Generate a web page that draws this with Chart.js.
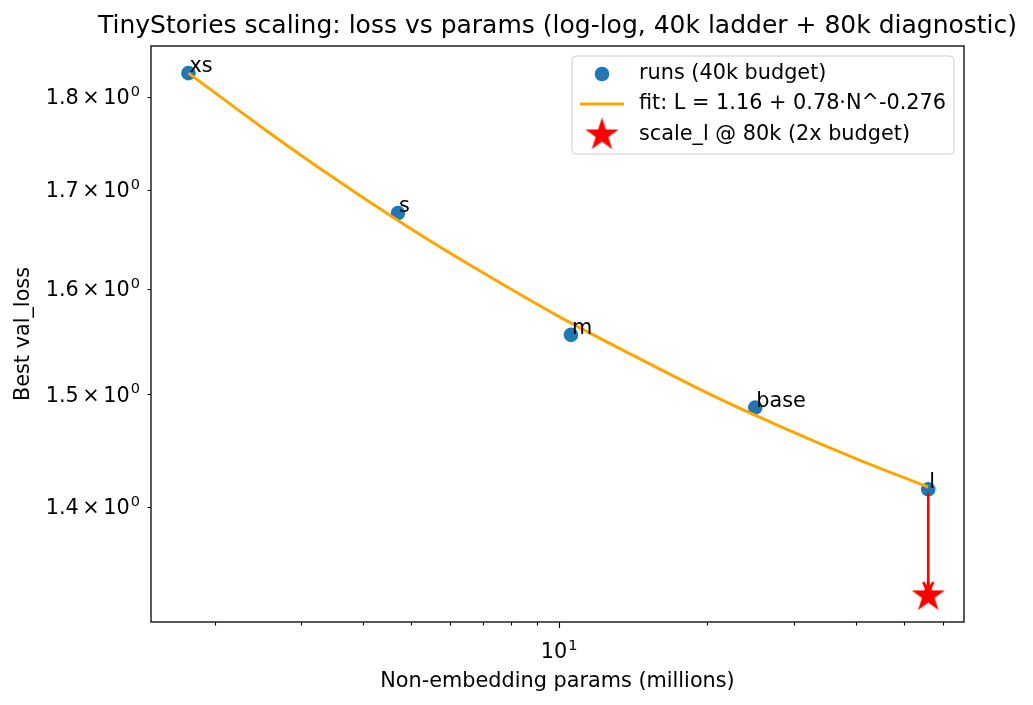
<!DOCTYPE html>
<html>
<head>
<meta charset="utf-8">
<script src="https://cdn.jsdelivr.net/npm/chart.js@4.4.0/dist/chart.umd.min.js"></script>
<style>
  body { margin: 0; background: #fff; }
  #wrap { width: 1033px; height: 705px; }
</style>
</head>
<body>
<div id="wrap"><canvas id="chart" width="1033" height="705"></canvas></div>
<script>
// runs on the 40k ladder
const models = ['xs', 's', 'm', 'base', 'l'];
const params = [1.77, 4.71, 10.57, 25.0, 56.1];
const bestLoss = [1.826, 1.676, 1.5555, 1.4877, 1.415];

// fit curve
const fitParams = [1.77, 2.5, 3.5, 5, 7, 10, 14, 20, 28, 40, 56.1];
const fitLoss = [1.826, 1.766, 1.712, 1.660, 1.616, 1.573, 1.537, 1.501, 1.471, 1.442, 1.417];

// scale_l rerun at 80k
const diagParams = [56.1];
const diagLoss = [1.3256];

const xMajorTicks = [10];
const xMajorLabels = [['10', '1']];
const xMinorTicks = [2, 3, 4, 5, 6, 7, 8, 9, 20, 30, 40, 50, 60];
const yTicks = [1.4, 1.5, 1.6, 1.7, 1.8];
const yTickLabels = ['1.4', '1.5', '1.6', '1.7', '1.8'];

const legendLabels = ['runs (40k budget)', 'fit: L = 1.16 + 0.78·N^-0.276', 'scale_l @ 80k (2x budget)'];

const FONT = '"DejaVu Sans", sans-serif';
const FS = 20.8;
const BLUE = '#1f77b4';
const ORANGE = '#ffa500';

// filled 5-point star like matplotlib's '*'
function makeStar(R) {
  const c = document.createElement('canvas');
  c.width = c.height = Math.ceil(R * 2 + 2);
  const g = c.getContext('2d');
  const cx = c.width / 2, cy = c.height / 2, r = R * 0.381966;
  g.beginPath();
  for (let i = 0; i < 10; i++) {
    const rad = i % 2 ? r : R;
    const a = -Math.PI / 2 + i * Math.PI / 5;
    g.lineTo(cx + rad * Math.cos(a), cy + rad * Math.sin(a));
  }
  g.closePath();
  g.fillStyle = 'red';
  g.fill();
  return c;
}
const starImg = makeStar(17.5);

// mathtext-ish "base^sup": draws pieces left to right from x, returns width if dry
function drawPow(ctx, parts, x, base, dry) {
  let w = 0;
  for (const p of parts) {
    ctx.font = (p.sup ? FS * 0.7 : FS) + 'px ' + FONT;
    const tw = ctx.measureText(p.t).width;
    if (!dry) ctx.fillText(p.t, x + w, p.sup ? base - 8.5 : base);
    w += tw + (p.gap || 0);
  }
  return w;
}

const decor = {
  id: 'decor',
  afterDatasetsDraw(chart) {
    const { ctx, chartArea: a, scales: { x, y } } = chart;
    ctx.save();

    // arrow l -> 80k
    const x0 = x.getPixelForValue(params[4]), y0 = y.getPixelForValue(bestLoss[4]) + 3;
    const x1 = x.getPixelForValue(diagParams[0]), y1 = y.getPixelForValue(diagLoss[0]) - 3;
    ctx.strokeStyle = 'red';
    ctx.lineWidth = 2.6;
    ctx.beginPath();
    ctx.moveTo(x0, y0);
    ctx.lineTo(x1, y1);
    ctx.stroke();
    ctx.beginPath();
    ctx.moveTo(x1 - 5, y1 - 11);
    ctx.lineTo(x1, y1);
    ctx.lineTo(x1 + 5, y1 - 11);
    ctx.stroke();

    // point labels
    ctx.fillStyle = '#000';
    ctx.font = FS + 'px ' + FONT;
    ctx.textAlign = 'left';
    ctx.textBaseline = 'alphabetic';
    models.forEach((m, i) => {
      ctx.fillText(m, x.getPixelForValue(params[i]) + 1, y.getPixelForValue(bestLoss[i]) - 1);
    });

    // frame
    ctx.strokeStyle = '#000';
    ctx.lineWidth = 1.3;
    ctx.strokeRect(a.left, a.top, a.right - a.left, a.bottom - a.top);

    // tick marks
    ctx.lineWidth = 1.1;
    ctx.beginPath();
    xMinorTicks.forEach(v => {
      const px = Math.round(x.getPixelForValue(v)) + 0.5;
      ctx.moveTo(px, a.bottom);
      ctx.lineTo(px, a.bottom + 3.5);
    });
    xMajorTicks.forEach(v => {
      const px = Math.round(x.getPixelForValue(v)) + 0.5;
      ctx.moveTo(px, a.bottom);
      ctx.lineTo(px, a.bottom + 6);
    });
    yTicks.forEach(v => {
      const py = Math.round(y.getPixelForValue(v)) + 0.5;
      ctx.moveTo(a.left, py);
      ctx.lineTo(a.left - 3.5, py);
    });
    ctx.stroke();

    // tick labels
    ctx.fillStyle = '#000';
    ctx.textAlign = 'left';
    ctx.textBaseline = 'alphabetic';
    xMajorTicks.forEach((v, i) => {
      const parts = [{ t: xMajorLabels[i][0], gap: 1 }, { t: xMajorLabels[i][1], sup: true }];
      const w = drawPow(ctx, parts, 0, 0, true);
      drawPow(ctx, parts, x.getPixelForValue(v) - w / 2, 658);
    });
    yTicks.forEach((v, i) => {
      const parts = [{ t: yTickLabels[i], gap: 3.5 }, { t: '×', gap: 3.5 }, { t: '10', gap: 1 }, { t: '0', sup: true }];
      const w = drawPow(ctx, parts, 0, 0, true);
      drawPow(ctx, parts, a.left - 11 - w, y.getPixelForValue(v) + 7.5);
    });

    // axis titles + title
    ctx.font = FS + 'px ' + FONT;
    ctx.textAlign = 'center';
    ctx.textBaseline = 'alphabetic';
    ctx.fillText('Non-embedding params (millions)', (a.left + a.right) / 2, 687);
    ctx.save();
    ctx.translate(29, (a.top + a.bottom) / 2);
    ctx.rotate(-Math.PI / 2);
    ctx.fillText('Best val_loss', 0, 0);
    ctx.restore();
    ctx.font = '25px ' + FONT;
    ctx.fillText('TinyStories scaling: loss vs params (log-log, 40k ladder + 80k diagnostic)', (a.left + a.right) / 2, 33);

    // legend
    const lx = 572, ly = 56, lw = 382, lh = 98, rr = 4;
    ctx.beginPath();
    ctx.moveTo(lx + rr, ly);
    ctx.arcTo(lx + lw, ly, lx + lw, ly + lh, rr);
    ctx.arcTo(lx + lw, ly + lh, lx, ly + lh, rr);
    ctx.arcTo(lx, ly + lh, lx, ly, rr);
    ctx.arcTo(lx, ly, lx + lw, ly, rr);
    ctx.closePath();
    ctx.fillStyle = 'rgba(255,255,255,0.8)';
    ctx.fill();
    ctx.strokeStyle = '#cccccc';
    ctx.lineWidth = 1;
    ctx.stroke();

    const rows = [74, 104, 135];
    ctx.fillStyle = BLUE;
    ctx.beginPath();
    ctx.arc(602, rows[0], 7.3, 0, Math.PI * 2);
    ctx.fill();
    ctx.strokeStyle = ORANGE;
    ctx.lineWidth = 3;
    ctx.beginPath();
    ctx.moveTo(580, rows[1]);
    ctx.lineTo(624, rows[1]);
    ctx.stroke();
    ctx.drawImage(starImg, 602 - starImg.width / 2, rows[2] - starImg.height / 2);

    ctx.fillStyle = '#000';
    ctx.font = FS + 'px ' + FONT;
    ctx.textAlign = 'left';
    ctx.textBaseline = 'middle';
    legendLabels.forEach((t, i) => ctx.fillText(t, 639, rows[i]));

    ctx.restore();
  }
};

new Chart(document.getElementById('chart'), {
  type: 'scatter',
  data: {
    datasets: [
      {
        label: legendLabels[0],
        data: params.map((p, i) => ({ x: p, y: bestLoss[i] })),
        backgroundColor: BLUE,
        borderWidth: 0,
        pointRadius: 7.3,
        pointHoverRadius: 7.3,
        order: 2
      },
      {
        label: legendLabels[1],
        data: fitParams.map((p, i) => ({ x: p, y: fitLoss[i] })),
        showLine: true,
        borderColor: ORANGE,
        borderWidth: 3,
        pointRadius: 0,
        cubicInterpolationMode: 'monotone',
        order: 1
      },
      {
        label: legendLabels[2],
        data: diagParams.map((p, i) => ({ x: p, y: diagLoss[i] })),
        pointStyle: starImg,
        order: 0
      }
    ]
  },
  options: {
    responsive: false,
    animation: false,
    events: [],
    layout: { padding: { left: 151, right: 69, top: 46, bottom: 83 } },
    scales: {
      x: { type: 'logarithmic', min: 1.486, max: 66.3, display: false },
      y: { type: 'logarithmic', min: 1.3046, max: 1.8566, display: false }
    },
    plugins: {
      legend: { display: false },
      title: { display: false },
      tooltip: { enabled: false }
    }
  },
  plugins: [decor]
});
</script>
</body>
</html>
